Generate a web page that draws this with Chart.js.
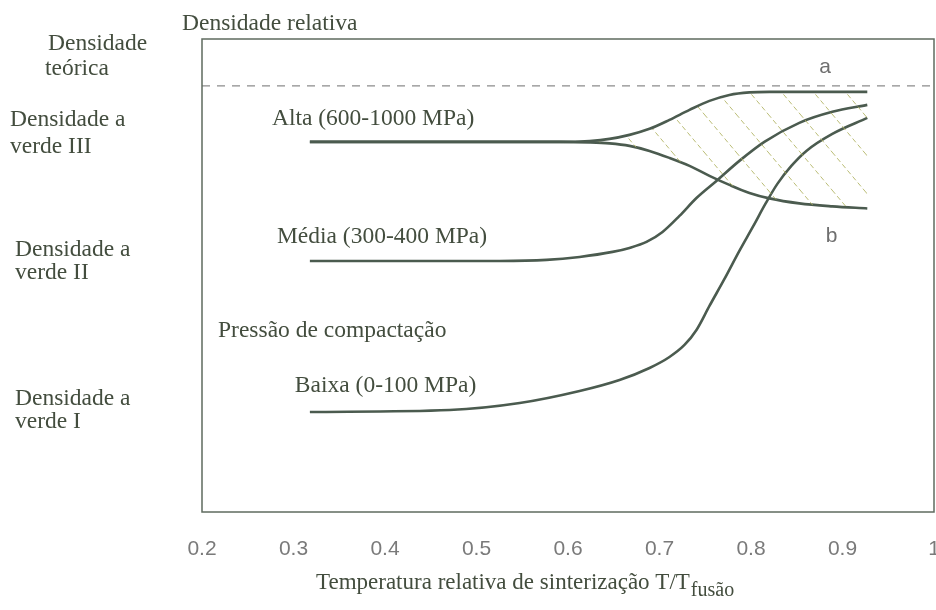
<!DOCTYPE html>
<html lang="pt">
<head>
<meta charset="utf-8">
<title>Densidade relativa x temperatura de sinterização</title>
<script src="https://cdn.jsdelivr.net/npm/chart.js@4.4.1/dist/chart.umd.min.js"></script>
<style>
  html, body { margin: 0; padding: 0; background: #fff; overflow: hidden; }
  #wrap { width: 936px; height: 610px; }
</style>
</head>
<body>
<div id="wrap"><canvas id="sinterChart" width="936" height="610"></canvas></div>
<script>
// eixo x: temperatura relativa T/Tfusão
const xTicks = [0.2, 0.3, 0.4, 0.5, 0.6, 0.7, 0.8, 0.9, 1];

// pressão alta: ramo superior (a) e inferior (b), mesmos x
const altaX = [0.3179, 0.5908, 0.6236, 0.6454, 0.6672, 0.6891, 0.7109, 0.7328, 0.7546, 0.7764, 0.7983, 0.8201, 0.8528, 0.8889, 0.9271];
const altaA = [0.9343, 0.9343, 0.9354, 0.9378, 0.9425, 0.9496, 0.9601, 0.9718, 0.9824, 0.9894, 0.9924, 0.9930, 0.9930, 0.9930, 0.9930];
const altaB = [0.9343, 0.9343, 0.9337, 0.9325, 0.9296, 0.9237, 0.9155, 0.9061, 0.8944, 0.8838, 0.8744, 0.8680, 0.8621, 0.8586, 0.8562];

// pressão média
const mediaX = [0.3179, 0.4162, 0.5253, 0.5766, 0.6127, 0.6487, 0.6672, 0.6858, 0.7033, 0.7218, 0.7404, 0.7622, 0.7873, 0.8146, 0.8528, 0.8889, 0.9271];
const mediaY = [0.7946, 0.7946, 0.7946, 0.7958, 0.7993, 0.8052, 0.8099, 0.8169, 0.8286, 0.8474, 0.8685, 0.8885, 0.9120, 0.9343, 0.9566, 0.9695, 0.9777];

// pressão baixa
const baixaX = [0.3179, 0.4707, 0.5472, 0.6127, 0.6563, 0.6891, 0.7109, 0.7273, 0.7404, 0.7546, 0.7710, 0.7873, 0.8026, 0.8157, 0.8288, 0.8441, 0.8605, 0.8889, 0.9271];
const baixaY = [0.6174, 0.6197, 0.6279, 0.6420, 0.6549, 0.6690, 0.6819, 0.6960, 0.7136, 0.7418, 0.7735, 0.8064, 0.8357, 0.8615, 0.8850, 0.9061, 0.9237, 0.9437, 0.9624];

// densidade teórica (linha tracejada)
const teoricaX = [0.2, 1.0];
const teoricaY = [1.0, 1.0];

// rótulos dentro do gráfico (posição em valores dos eixos, linha de base)
const curveLabels = ['Alta (600-1000 MPa)', 'Média (300-400 MPa)', 'Pressão de compactação', 'Baixa (0-100 MPa)'];
const curveLabelX = [0.2764, 0.2819, 0.2175, 0.3015];
const curveLabelY = [0.9542, 0.8157, 0.7054, 0.6408];

const branchLabels = ['a', 'b'];
const branchLabelX = [0.881, 0.888];
const branchLabelY = [1.015, 0.817];

const serif = '"Liberation Serif", "Times New Roman", serif';
const sans = '"Liberation Sans", Arial, sans-serif';
const lineColor = '#4b5b4f';
const textColor = '#434d3e';

function pontos(xs, ys) {
    return xs.map((x, i) => ({ x, y: ys[i] }));
}

function criarHachura() {
    const c = document.createElement('canvas');
    c.width = 32;
    c.height = 38;
    const g = c.getContext('2d');
    g.strokeStyle = 'rgba(175, 178, 95, 0.85)';
    g.lineWidth = 1;
    g.setLineDash([5, 3]);
    [-32, 0, 32].forEach(dx => {
        g.beginPath();
        g.moveTo(dx, 0);
        g.lineTo(dx + 32, 38);
        g.stroke();
    });
    return g.createPattern(c, 'repeat');
}

// moldura e textos
const moldura = {
    id: 'moldura',
    afterDraw(chart) {
        const { ctx, chartArea: a, scales: { x, y } } = chart;
        ctx.save();
        ctx.strokeStyle = '#5f6b5f';
        ctx.lineWidth = 1.5;
        ctx.strokeRect(a.left, a.top, a.right - a.left, a.bottom - a.top);

        ctx.fillStyle = textColor;
        ctx.textBaseline = 'alphabetic';
        ctx.textAlign = 'left';
        ctx.font = '23.5px ' + serif;
        ctx.fillText('Densidade relativa', 182, 30);

        // legenda lateral
        const side = [
            ['Densidade', 48, 50], ['teórica', 45, 75],
            ['Densidade a', 10, 126], ['verde III', 10, 153],
            ['Densidade a', 15, 256], ['verde II', 15, 279],
            ['Densidade a', 15, 405], ['verde I', 15, 428]
        ];
        side.forEach(([t, px, py]) => ctx.fillText(t, px, py));

        curveLabels.forEach((t, i) => {
            ctx.fillText(t, x.getPixelForValue(curveLabelX[i]), y.getPixelForValue(curveLabelY[i]));
        });

        // título do eixo x com subscrito
        ctx.font = '23px ' + serif;
        const titulo = 'Temperatura relativa de sinterização T/T';
        ctx.fillText(titulo, 316, 589);
        const w = ctx.measureText(titulo).width;
        ctx.font = '20px ' + serif;
        ctx.fillText('fusão', 316 + w + 1, 596);

        ctx.fillStyle = '#6f6f6f';
        ctx.font = '21px ' + sans;
        ctx.textAlign = 'center';
        branchLabels.forEach((t, i) => {
            ctx.fillText(t, x.getPixelForValue(branchLabelX[i]), y.getPixelForValue(branchLabelY[i]));
        });
        ctx.restore();
    }
};

const linha = {
    borderColor: lineColor,
    borderWidth: 2.6,
    pointRadius: 0,
    cubicInterpolationMode: 'monotone',
    fill: false
};

new Chart(document.getElementById('sinterChart'), {
    type: 'line',
    data: {
        datasets: [
            { ...linha, label: 'Alta a', data: pontos(altaX, altaA), fill: '+1', backgroundColor: criarHachura() },
            { ...linha, label: 'Alta b', data: pontos(altaX, altaB) },
            { ...linha, label: 'Média', data: pontos(mediaX, mediaY) },
            { ...linha, label: 'Baixa', data: pontos(baixaX, baixaY) },
            {
                label: 'Densidade teórica',
                data: pontos(teoricaX, teoricaY),
                borderColor: '#8c8c8c',
                borderWidth: 1.2,
                borderDash: [8, 7],
                pointRadius: 0,
                fill: false
            }
        ]
    },
    options: {
        responsive: false,
        animation: false,
        devicePixelRatio: 1,
        layout: { padding: { left: 202, right: 2, top: 39, bottom: 38 } },
        plugins: {
            legend: { display: false },
            tooltip: { enabled: false },
            title: { display: false }
        },
        scales: {
            x: {
                type: 'linear',
                min: 0.2,
                max: 1.0,
                grid: { display: false },
                border: { display: false },
                afterBuildTicks: s => { s.ticks = xTicks.map(v => ({ value: v })); },
                afterFit: s => { s.height = 60; s.paddingLeft = 0; s.paddingRight = 0; },
                ticks: {
                    autoSkip: false,
                    maxRotation: 0,
                    padding: 17,
                    color: '#7a7a7a',
                    font: { family: sans, size: 21 },
                    callback: v => Math.abs(v - 1) < 1e-9 ? '1' : v.toFixed(1)
                }
            },
            y: {
                type: 'linear',
                min: 0.5,
                max: 1.055,
                display: false
            }
        }
    },
    plugins: [moldura]
});
</script>
</body>
</html>
